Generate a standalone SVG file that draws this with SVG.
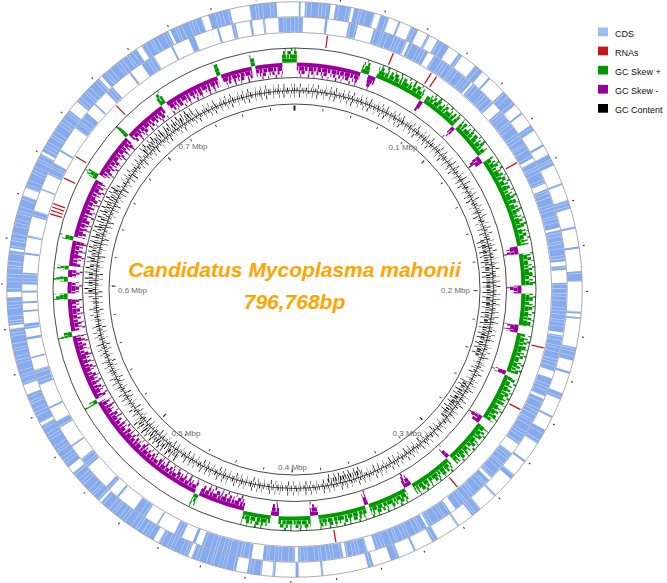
<svg xmlns="http://www.w3.org/2000/svg" width="667" height="583" viewBox="0 0 667 583">
<style>
text{font-family:"Liberation Sans",Arial,Helvetica,sans-serif}
.lg{font-size:9px;fill:#111}
.tl{font-size:8px;fill:#6a6a6a}
.ttl{font-size:21px;font-weight:bold;font-style:italic;fill:#FFA500}
.bl{fill:none;stroke:#333;stroke-width:0.9}
.gl{fill:none;stroke:#8a8a8a;stroke-width:0.7}
.cds{fill:none;stroke:#86AAEE}
.sep{fill:none;stroke:#fff;stroke-opacity:0.5;stroke-dasharray:0.3 1.4 0.3 2.2 0.3 0.9 0.3 1.7 0.3 3.1 0.3 1.2}
.g{fill:none;stroke:#009900}
.p{fill:none;stroke:#990099}
.k{fill:none;stroke:#000}
.rna line{stroke:#C8161E;stroke-width:1.3}
</style>
<defs>
<mask id="mG" maskUnits="userSpaceOnUse" x="-300" y="-300" width="600" height="600">
<circle r="234" fill="none" stroke="#fff" stroke-width="16" pathLength="796.768" stroke-dasharray="1.33 36.3 4.42 4.43 27.66 2.22 21.02 2.22 19.91 4.43 50.91 4.42 17.71 4.42 17.71 4.43 22.13 2.21 26.56 4.43 24.34 2.22 24.34 4.43 22.13 2.21 26.56 4.43 17.71 4.42 15.5 26.55 2.66 74.81 2.21 37.63 2.87 18.15 3.32 6.64 2.66 3.98 2.21 14.39 2.21 34.31 3.32 25.45 2.21 24.35 3.32 32.09 2.21 17.71 2.21 15.27 6.87 10"/>
</mask>
<mask id="mP" maskUnits="userSpaceOnUse" x="-300" y="-300" width="600" height="600">
<circle r="220" fill="none" stroke="#fff" stroke-width="16" pathLength="796.768" stroke-dasharray="0 1.33 36.3 4.42 4.43 27.66 2.22 21.02 2.22 19.91 4.43 50.91 4.42 17.71 4.42 17.71 4.43 22.13 2.21 26.56 4.43 24.34 2.22 24.34 4.43 22.13 2.21 26.56 4.43 17.71 4.42 15.5 26.55 2.66 74.81 2.21 37.63 2.87 18.15 3.32 6.64 2.66 3.98 2.21 14.39 2.21 34.31 3.32 25.45 2.21 24.35 3.32 32.09 2.21 17.71 2.21 15.27 6.87 10"/>
</mask>
<mask id="mO" maskUnits="userSpaceOnUse" x="-300" y="-300" width="600" height="600">
<circle r="205" fill="none" stroke="#fff" stroke-width="14" pathLength="796.768" stroke-dasharray="0 475.85 33.2 84.1 70.82 26.56 39.84 100"/>
</mask>
<mask id="mI" maskUnits="userSpaceOnUse" x="-300" y="-300" width="600" height="600">
<circle r="193" fill="none" stroke="#fff" stroke-width="14" pathLength="796.768" stroke-dasharray="0 166 77.46 17.7 26.56 66.4 22.13 450"/>
</mask>
</defs>
<rect width="667" height="583" fill="#fff"/>
<g id="map" transform="translate(294.5 289.5) rotate(-90)">
<g id="cds-forward">
<circle class="cds" r="280.25" stroke-width="14.5" pathLength="796.768" stroke-dasharray="0 2 0.8 1.9 11.4 2.2 7 1.2 9.5 2.5 4.2 4.3 1 5 3.5 4.5 1.2 3.8 6 5 2 7 4.5 3.5 1 8 8 4 1 6 3 7 1 4 5.5 8.5 1 7 4 8 1 8 1 10 4.6 13.4 1 1.5 0.8 12.7 6 5 1 9 3 8 1 6 7 9 1 7 2.5 9.5 1 8 5 7 1 10 3 8 1 7 4 8 2.5 20 1 10 1.5 9 1.2 4.8 6.5 5 20.5 1.5 14.5 2.5 28.5 1 17 3 22 1.2 13.8 4.5 25.5 1.5 12.5 2.5 18.5 1 24 3.5 16.5 1.2 21.8 5 14 1.5 19.5 2.5 13.5 1 15 3 10 8.6 12.2 8.5 0 50"/>
<circle class="sep" r="280.25" stroke-width="14.5" pathLength="796.768"/>
</g>
<g id="cds-reverse">
<circle class="cds" r="265" stroke-width="14.5" pathLength="796.768" stroke-dasharray="4 10.4 1.2 9.9 4.4 7.7 16.5 1.2 9.8 3.1 21.4 1 13.2 4.5 27 1.5 11.6 2.6 19 1.1 14.9 2 2 6 23.5 1.3 17.2 3.5 9 1.2 24.3 5 15 1.4 20.6 2.8 12.2 1 26 3.8 10.2 1.5 21.1 1.6 15.2 5.2 24 3 1.5 5.4 4 8.5 0.8 6.2 6.5 9 1 4.5 2.2 12.3 5 7 0.8 9.7 3.5 6.5 1 11 7.5 5.5 0.8 8.2 1.2 3.8 2.5 5.5 0.8 3.2 1 4 1 3 5.5 8.5 1 7 1 9 3 10 0.8 7.2 6 6 1 12 9 5 0.8 7.2 4 10 1 6 7 9 1 8 3 11 1 6 2 6.7 1.2 5 1 6.1 7.77 10"/>
<circle class="sep" r="265" stroke-width="14.5" pathLength="796.768"/>
</g>
<g id="gc-skew">
<g mask="url(#mG)">
<circle class="g" r="229" stroke-width="4" pathLength="796.768"/>
<circle class="g" r="233" stroke-width="4" pathLength="796.768" stroke-dasharray="2.5 0.4 1.2 0.6 3.4 0.3 1.8 0.8 2.6 0.5"/>
<circle class="g" r="236.75" stroke-width="3.5" pathLength="796.768" stroke-dasharray="1.2 1.1 2 1.6 0.8 0.9 1.6 2.2 0.7 1.3"/>
<circle class="g" r="240" stroke-width="3" pathLength="796.768" stroke-dasharray="0.6 2.4 1 3.6 0.4 2.8 0.8 4.4"/>
</g>
<g mask="url(#mP)">
<circle class="p" r="225" stroke-width="4" pathLength="796.768"/>
<circle class="p" r="221" stroke-width="4" pathLength="796.768" stroke-dasharray="2.2 0.5 3 0.4 1.4 0.7 2.6 0.3 1.5 0.6"/>
<circle class="p" r="217.25" stroke-width="3.5" pathLength="796.768" stroke-dasharray="1.1 1.4 0.7 0.9 1.9 2.2 0.6 1 1.3 1.8"/>
<circle class="p" r="214" stroke-width="3" pathLength="796.768" stroke-dasharray="0.7 2.8 0.5 3.9 0.9 2.6 0.4 4.4"/>
</g>
</g>
<g id="gc-content">
<circle class="k" r="199" stroke-width="0.7"/>
<circle class="k" r="200.5" stroke-width="3" pathLength="796.768" stroke-dasharray="0.3 1.1 0.6 0.9 0.2 1.6 0.4 0.8"/>
<circle class="k" r="197.5" stroke-width="3" pathLength="796.768" stroke-dasharray="0.4 0.9 0.2 1.3 0.5 0.7 0.3 1.5"/>
<circle class="k" r="204" stroke-width="4" pathLength="796.768" stroke-dasharray="0.3 3.1 0.4 4.6 0.2 2.8"/>
<circle class="k" r="194" stroke-width="4" pathLength="796.768" stroke-dasharray="0.3 2.7 0.5 4.1 0.2 3.6"/>
<g mask="url(#mO)">
<circle class="k" r="204" stroke-width="4" pathLength="796.768" stroke-dasharray="0.5 1.1 0.7 0.9 0.3 1.5"/>
<circle class="k" r="208" stroke-width="4" pathLength="796.768" stroke-dasharray="0.4 2.3 0.6 3.1"/>
</g>
<g mask="url(#mI)">
<circle class="k" r="194" stroke-width="4" pathLength="796.768" stroke-dasharray="0.6 1 0.4 1.2 0.8 0.9"/>
<circle class="k" r="190" stroke-width="4" pathLength="796.768" stroke-dasharray="0.5 2.5 0.4 3.3"/>
</g>
</g>
<g id="backbones">
<circle class="gl" r="287.75"/>
<circle class="gl" r="272.75"/>
<circle class="gl" r="257.25"/>
<circle class="bl" r="241.5"/>
<circle class="bl" r="212"/>
<circle class="bl" r="185.5"/>
</g>
<g id="ticks">
<circle r="292.5" fill="none" stroke="#444" stroke-width="2" pathLength="796.768" stroke-dasharray="0.5 19.5" stroke-dashoffset="0.25"/>
<circle r="181.5" fill="none" stroke="#333" stroke-width="2.5" pathLength="796.768" stroke-dasharray="0.6 19.4" stroke-dashoffset="0.3"/>
<circle r="180.75" fill="none" stroke="#333" stroke-width="4" pathLength="796.768" stroke-dasharray="0.7 99.3" stroke-dashoffset="0.35"/>
</g>
</g>
<rect x="293.5" y="105.5" width="2" height="5" fill="#222"/>
<g id="rnas" class="rna" transform="translate(294.5 289.5)">
<line y1="-243.5" y2="-256" transform="rotate(7.4)"/>
<line y1="-243.5" y2="-256" transform="rotate(22.7)"/>
<line y1="-243.5" y2="-256" transform="rotate(32.3)"/>
<line y1="-243.5" y2="-256" transform="rotate(33.7)"/>
<line y1="-243.5" y2="-256" transform="rotate(60.3)"/>
<line y1="-243.5" y2="-256" transform="rotate(103.2)"/>
<line y1="-243.5" y2="-256" transform="rotate(118)"/>
<line y1="-243.5" y2="-256" transform="rotate(140.5)"/>
<line y1="-243.5" y2="-256" transform="rotate(170.7)"/>
<line y1="-243.5" y2="-256" transform="rotate(287.2)"/>
<line y1="-243.5" y2="-256" transform="rotate(288)"/>
<line y1="-243.5" y2="-256" transform="rotate(288.8)"/>
<line y1="-243.5" y2="-256" transform="rotate(289.6)"/>
<line y1="-243.5" y2="-256" transform="rotate(295.8)"/>
<line y1="-243.5" y2="-256" transform="rotate(301.3)"/>
<line y1="-243.5" y2="-256" transform="rotate(315.9)"/>
</g>
<g id="tick-labels" class="tl">
<text x="403" y="150" text-anchor="middle">0.1 Mbp</text>
<text x="470" y="293" text-anchor="end">0.2 Mbp</text>
<text x="407" y="436" text-anchor="middle">0.3 Mbp</text>
<text x="292.5" y="470" text-anchor="middle">0.4 Mbp</text>
<text x="186" y="436" text-anchor="middle">0.5 Mbp</text>
<text x="118" y="292.5">0.6 Mbp</text>
<text x="193" y="149" text-anchor="middle">0.7 Mbp</text>
</g>
<g id="title">
<text class="ttl" x="294.5" y="277" text-anchor="middle">Candidatus Mycoplasma mahonii</text>
<text class="ttl" x="294.5" y="308.5" text-anchor="middle">796,768bp</text>
</g>
<g id="legend" class="lg">
<g id="legend-cds"><rect x="598" y="27.5" width="10" height="8.7" fill="#9CBCF2"/><text x="615" y="36.5">CDS</text></g>
<g id="legend-rnas"><rect x="598" y="46.6" width="10" height="8.7" fill="#C8161E"/><text x="615" y="55.6">RNAs</text></g>
<g id="legend-skewp"><rect x="598" y="65.8" width="10" height="8.7" fill="#009900"/><text x="615" y="74.8">GC Skew +</text></g>
<g id="legend-skewm"><rect x="598" y="84.9" width="10" height="8.7" fill="#990099"/><text x="615" y="93.9">GC Skew -</text></g>
<g id="legend-gc"><rect x="598" y="104" width="10" height="8.7" fill="#000"/><text x="615" y="113">GC Content</text></g>
</g>
</svg>
